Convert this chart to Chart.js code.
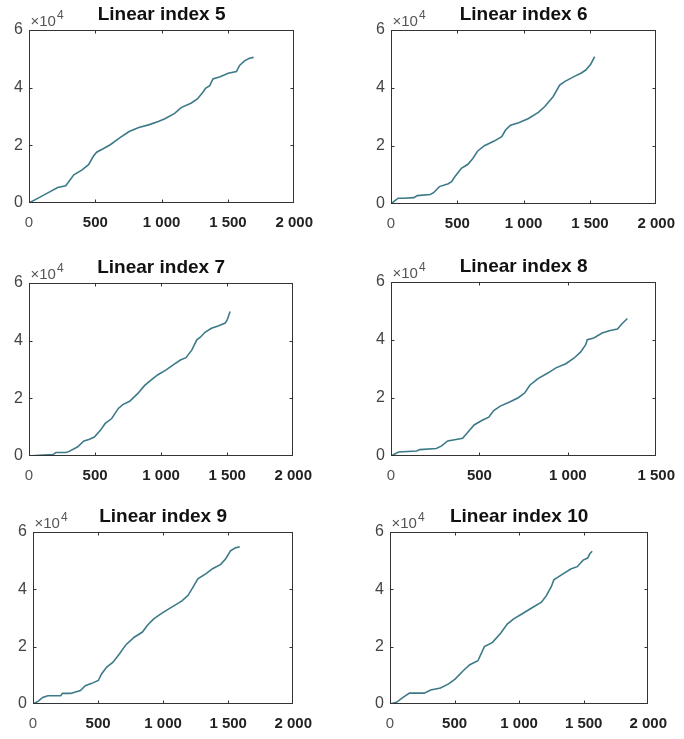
<!DOCTYPE html>
<html>
<head>
<meta charset="utf-8">
<script src="https://cdn.jsdelivr.net/npm/chart.js@4.4.1/dist/chart.umd.min.js"></script>
<style>
  html, body { margin: 0; padding: 0; background: #fff; }
  body { width: 684px; height: 739px; position: relative; overflow: hidden; }
  canvas { position: absolute; }
</style>
</head>
<body>
<canvas id="c5"></canvas>
<canvas id="c6"></canvas>
<canvas id="c7"></canvas>
<canvas id="c8"></canvas>
<canvas id="c9"></canvas>
<canvas id="c10"></canvas>
<script>
// data (x = step, y = cumulative value)
const titles = ['Linear index 5', 'Linear index 6', 'Linear index 7', 'Linear index 8', 'Linear index 9', 'Linear index 10'];
const xMax = [2000, 2000, 2000, 1500, 2000, 2000];
const yTicks = [0, 20000, 40000, 60000];

const x5 = [0, 69, 142, 216, 277, 338, 400, 449, 485, 510, 559, 613, 681, 755, 828, 902, 975, 1025, 1098, 1147, 1221, 1270, 1314, 1331, 1363, 1387, 1441, 1502, 1564, 1588, 1625, 1662, 1694];
const y5 = [0, 1700, 3500, 5400, 6000, 9800, 11500, 13300, 16200, 17600, 18800, 20200, 22500, 24800, 26200, 27100, 28300, 29200, 31100, 33100, 34600, 36100, 38600, 39800, 40700, 43000, 43800, 45000, 45600, 47700, 49300, 50200, 50500];

const x6 = [0, 25, 54, 99, 173, 198, 296, 321, 365, 432, 457, 481, 531, 580, 617, 654, 704, 778, 835, 864, 901, 963, 1037, 1111, 1160, 1222, 1272, 1309, 1383, 1432, 1469, 1506, 1536];
const y6 = [0, 1000, 2000, 2000, 2200, 2900, 3300, 3900, 6000, 7000, 7700, 9400, 12300, 13700, 15700, 18300, 20100, 21700, 23200, 25500, 27200, 28000, 29500, 31600, 33600, 37000, 41000, 42200, 44000, 45100, 46200, 48200, 50800];

const x7 = [0, 45, 181, 205, 280, 304, 366, 416, 453, 495, 540, 577, 626, 676, 713, 762, 824, 874, 923, 973, 1035, 1097, 1146, 1188, 1233, 1270, 1295, 1332, 1381, 1431, 1485, 1500, 1522];
const y7 = [0, 200, 500, 1200, 1200, 1600, 3100, 5200, 5700, 6600, 8900, 11300, 13000, 16500, 17900, 19000, 21700, 24400, 26300, 28100, 29800, 31800, 33300, 34100, 36800, 40300, 41100, 42900, 44300, 45100, 46100, 47200, 50100];

const x8 = [0, 43, 145, 163, 256, 284, 321, 368, 405, 432, 470, 516, 553, 581, 618, 674, 720, 757, 785, 831, 887, 933, 989, 1036, 1073, 1101, 1110, 1147, 1194, 1240, 1281, 1305, 1337];
const y8 = [0, 1400, 1700, 2200, 2600, 3400, 5200, 5700, 6100, 8000, 10700, 12300, 13400, 15700, 17200, 18700, 20100, 21800, 24400, 26700, 28600, 30400, 31800, 33800, 35900, 38400, 40100, 40700, 42400, 43300, 43800, 45500, 47400];

const x9 = [0, 38, 75, 113, 213, 226, 289, 364, 402, 452, 502, 527, 565, 615, 665, 715, 778, 841, 878, 928, 991, 1066, 1142, 1192, 1230, 1267, 1330, 1380, 1443, 1481, 1518, 1556, 1588];
const y9 = [0, 900, 2300, 2900, 2900, 3700, 3700, 4700, 6400, 7200, 8200, 10500, 12800, 14600, 17500, 20700, 23300, 25100, 27400, 29700, 31700, 33800, 35900, 37900, 40800, 43700, 45500, 47200, 48700, 50700, 53400, 54500, 54800];

const x10 = [0, 50, 101, 151, 265, 315, 391, 454, 504, 567, 618, 681, 731, 794, 857, 908, 958, 1021, 1097, 1173, 1211, 1249, 1269, 1337, 1400, 1450, 1496, 1531, 1546, 1566];
const y10 = [0, 600, 2300, 3800, 3800, 4900, 5600, 7000, 8700, 11600, 13700, 15100, 20000, 21500, 24700, 27900, 29700, 31400, 33500, 35500, 37800, 40900, 43300, 45300, 47100, 47900, 50200, 50900, 52300, 53300];

const series = [[x5, y5], [x6, y6], [x7, y7], [x8, y8], [x9, y9], [x10, y10]];

// plot boxes on the page: left, top, width, height
const boxes = [
    [29, 30, 271, 173],
    [391, 30, 271, 174],
    [29, 283, 270, 173],
    [391, 282, 271, 174],
    [33, 532, 266, 172],
    [390, 532, 264, 172]
];

const Y_AXIS_W = 28;
const X_AXIS_H = 30;
const TITLE_H = 30;
const PAD_R = 24;
const FONT = '"Liberation Sans", Arial, sans-serif';

// MATLAB style box with inward ticks and the x10^4 exponent
const framePlugin = {
    id: 'frame',
    afterDraw(chart) {
        const ctx = chart.ctx;
        const a = chart.chartArea;
        const xs = chart.scales.x;
        const ys = chart.scales.y;
        ctx.save();
        ctx.strokeStyle = '#333';
        ctx.lineWidth = 1;
        const L = Math.round(a.left) + 0.5, R = Math.round(a.right) - 0.5;
        const T = Math.round(a.top) + 0.5, B = Math.round(a.bottom) - 0.5;
        ctx.strokeRect(L, T, R - L, B - T);
        ctx.beginPath();
        xs.ticks.forEach(t => {
            if (t.value <= xs.min || t.value >= xs.max) return;
            const px = Math.round(xs.getPixelForValue(t.value)) + 0.5;
            ctx.moveTo(px, B); ctx.lineTo(px, B - 3);
            ctx.moveTo(px, T); ctx.lineTo(px, T + 3);
        });
        ys.ticks.forEach(t => {
            if (t.value <= ys.min || t.value >= ys.max) return;
            const py = Math.round(ys.getPixelForValue(t.value)) + 0.5;
            ctx.moveTo(L, py); ctx.lineTo(L + 3, py);
            ctx.moveTo(R, py); ctx.lineTo(R - 3, py);
        });
        ctx.stroke();

        ctx.fillStyle = '#555';
        ctx.textBaseline = 'alphabetic';
        ctx.textAlign = 'left';
        ctx.font = '15px ' + FONT;
        ctx.fillText('\u00d710', L + 1, T - 5);
        const w = ctx.measureText('\u00d710').width;
        ctx.font = '12px ' + FONT;
        ctx.fillText('4', L + 1 + w + 1, T - 12);
        ctx.restore();
    }
};

function fmtX(v) {
    if (v >= 1000) return Math.floor(v / 1000) + ' ' + String(v % 1000).padStart(3, '0');
    return String(v);
}

function makeChart(i) {
    const canvas = document.getElementById('c' + (i + 5));
    const [l, t, w, h] = boxes[i];
    canvas.width = Y_AXIS_W + w + PAD_R;
    canvas.height = TITLE_H + h + X_AXIS_H;
    canvas.style.left = (l - Y_AXIS_W) + 'px';
    canvas.style.top = (t - TITLE_H) + 'px';
    canvas.style.width = canvas.width + 'px';
    canvas.style.height = canvas.height + 'px';

    const [xs, ys] = series[i];
    const points = xs.map((x, k) => ({ x: x, y: ys[k] }));

    new Chart(canvas, {
        type: 'line',
        data: {
            datasets: [{
                data: points,
                borderColor: '#3d7a88',
                borderWidth: 1.6,
                pointRadius: 0,
                tension: 0,
                fill: false
            }]
        },
        options: {
            responsive: false,
            animation: false,
            devicePixelRatio: 1,
            layout: { padding: { left: 0, top: 0, right: PAD_R, bottom: 0 } },
            plugins: {
                legend: { display: false },
                tooltip: { enabled: false },
                title: {
                    display: true,
                    text: titles[i],
                    fullSize: false,
                    color: '#111',
                    font: { family: FONT, size: 19, weight: 'bold', lineHeight: 1 },
                    padding: { top: 5, bottom: 6 }
                }
            },
            scales: {
                x: {
                    type: 'linear',
                    min: 0,
                    max: xMax[i],
                    grid: { display: false, drawTicks: false },
                    border: { display: false },
                    afterFit(scale) { scale.height = X_AXIS_H; },
                    ticks: {
                        stepSize: 500,
                        autoSkip: false,
                        maxRotation: 0,
                        padding: 11,
                        color: ctx => ctx.tick && ctx.tick.value === 0 ? '#555' : '#222',
                        font: ctx => ({
                            family: FONT,
                            size: 15,
                            weight: ctx.tick && ctx.tick.value === 0 ? 'normal' : 'bold'
                        }),
                        callback: v => fmtX(v)
                    }
                },
                y: {
                    type: 'linear',
                    min: 0,
                    max: 60000,
                    grid: { display: false, drawTicks: false },
                    border: { display: false },
                    afterFit(scale) { scale.width = Y_AXIS_W; },
                    afterBuildTicks(scale) { scale.ticks = yTicks.map(v => ({ value: v })); },
                    ticks: {
                        padding: 6,
                        color: '#444',
                        font: { family: FONT, size: 16 },
                        callback: v => String(v / 10000)
                    }
                }
            }
        },
        plugins: [framePlugin]
    });
}

for (let i = 0; i < 6; i++) makeChart(i);
</script>
</body>
</html>
